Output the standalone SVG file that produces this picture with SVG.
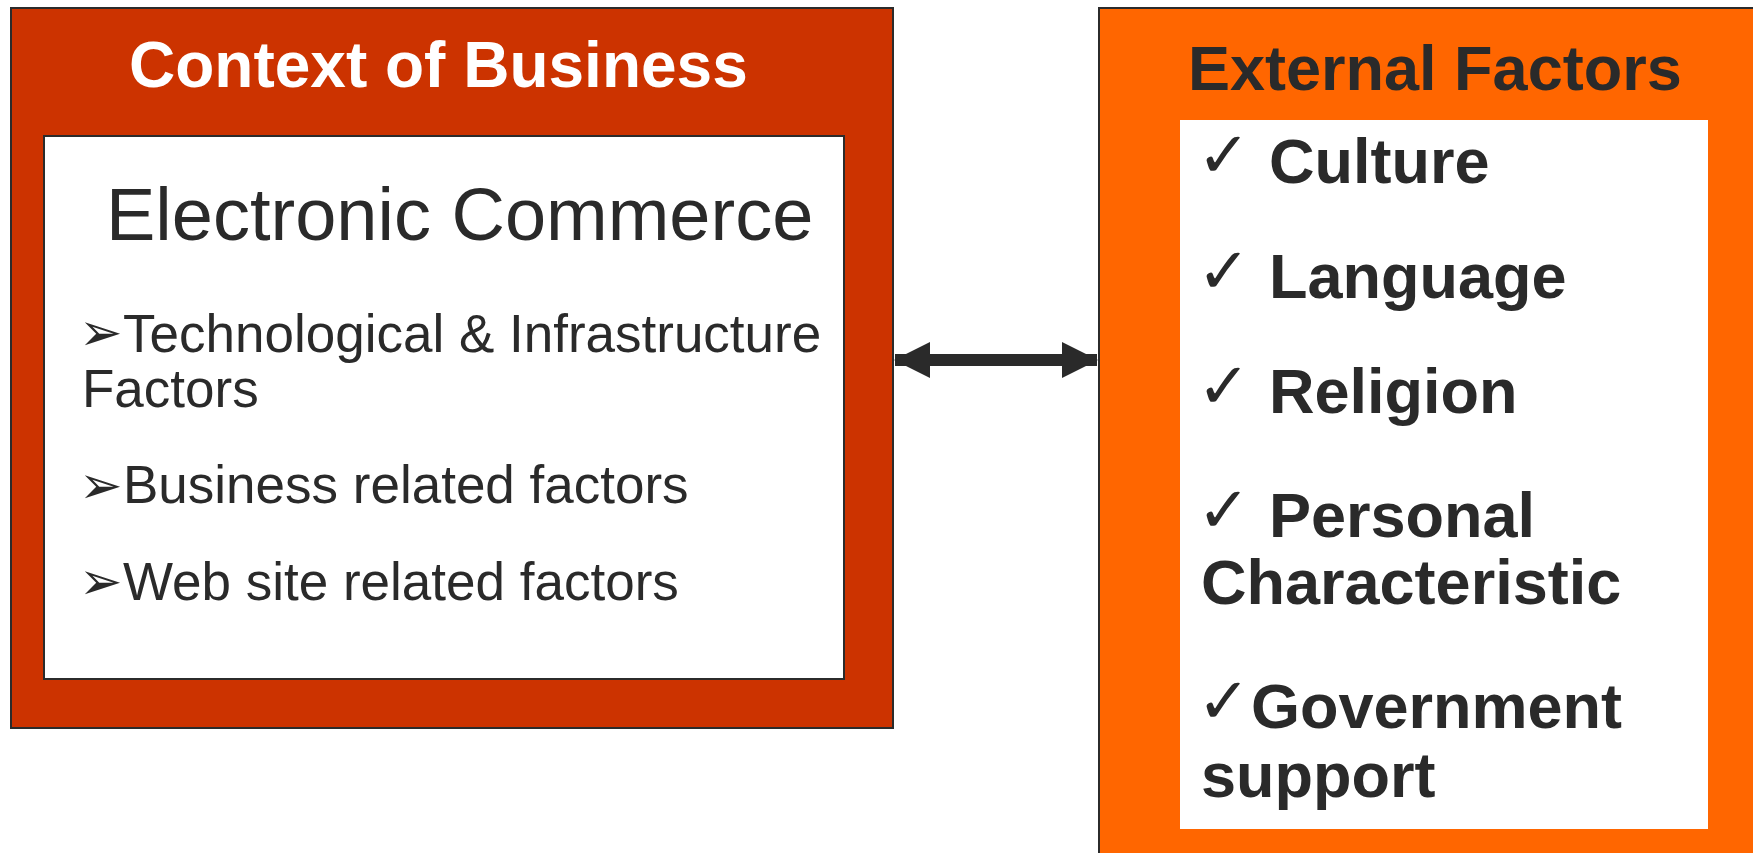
<svg xmlns="http://www.w3.org/2000/svg" width="1753" height="853" viewBox="0 0 1753 853">
  <style>
    .frame { stroke: #2b2b2b; stroke-width: 2; }
    .title { font-family: "Liberation Sans", Arial, sans-serif; font-weight: bold; font-size: 64px; }
    .ec { font-family: "Liberation Sans", Arial, sans-serif; font-size: 74px; fill: #2a2a2a; }
    .item { font-family: "Liberation Sans", Arial, sans-serif; font-size: 53px; fill: #2a2a2a; }
    .bullet { font-family: "DejaVu Sans", sans-serif; font-size: 52px; }
    .ext { font-family: "Liberation Sans", Arial, sans-serif; font-weight: bold; font-size: 63px; fill: #2a2a2a; }
    .check { font-family: "DejaVu Sans", sans-serif; font-weight: normal; font-size: 64px; }
  </style>
  <defs>
    <marker id="head" viewBox="0 0 36 36" refX="35" refY="18" markerWidth="36" markerHeight="36" markerUnits="userSpaceOnUse" orient="auto-start-reverse">
      <path d="M0,0 L36,18 L0,36 Z" fill="#2a2a2a"/>
    </marker>
  </defs>
  <rect width="1753" height="853" fill="#ffffff"/>

  <!-- Context of Business -->
  <g id="context-of-business">
    <rect class="frame" x="11" y="8" width="882" height="720" fill="#cc3300"/>
    <text class="title" x="129" y="87" fill="#ffffff">Context of Business</text>
    <g id="electronic-commerce">
      <rect class="frame" x="44" y="136" width="800" height="543" fill="#ffffff"/>
      <text class="ec" x="106" y="240">Electronic Commerce</text>
      <text class="item"><tspan class="bullet" x="79" y="350">➢</tspan><tspan x="123" y="352">Technological &amp; Infrastructure</tspan></text>
      <text class="item" x="82" y="407">Factors</text>
      <text class="item"><tspan class="bullet" x="79" y="503">➢</tspan><tspan x="123" y="503">Business related factors</tspan></text>
      <text class="item"><tspan class="bullet" x="79" y="599">➢</tspan><tspan x="123" y="600">Web site related factors</tspan></text>
    </g>
  </g>

  <!-- External Factors -->
  <g id="external-factors">
    <rect class="frame" x="1099" y="8" width="700" height="900" fill="#ff6600"/>
    <text class="ext" x="1188" y="90">External Factors</text>
    <g id="factor-list">
      <rect x="1180" y="120" width="528" height="709" fill="#ffffff"/>
      <text class="ext"><tspan class="check" x="1197" y="177">✓</tspan><tspan x="1269" y="183">Culture</tspan></text>
      <text class="ext"><tspan class="check" x="1197" y="293">✓</tspan><tspan x="1269" y="298">Language</tspan></text>
      <text class="ext"><tspan class="check" x="1197" y="408">✓</tspan><tspan x="1269" y="413">Religion</tspan></text>
      <text class="ext"><tspan class="check" x="1197" y="532">✓</tspan><tspan x="1269" y="537">Personal</tspan></text>
      <text class="ext" x="1201" y="604">Characteristic</text>
      <text class="ext"><tspan class="check" x="1197" y="723">✓</tspan><tspan x="1251" y="728">Government</tspan></text>
      <text class="ext" x="1201" y="797">support</text>
    </g>
  </g>

  <!-- Connectors -->
  <g id="connectors">
    <line x1="895" y1="360" x2="1097" y2="360" stroke="#2a2a2a" stroke-width="12" marker-start="url(#head)" marker-end="url(#head)"/>
  </g>
</svg>
